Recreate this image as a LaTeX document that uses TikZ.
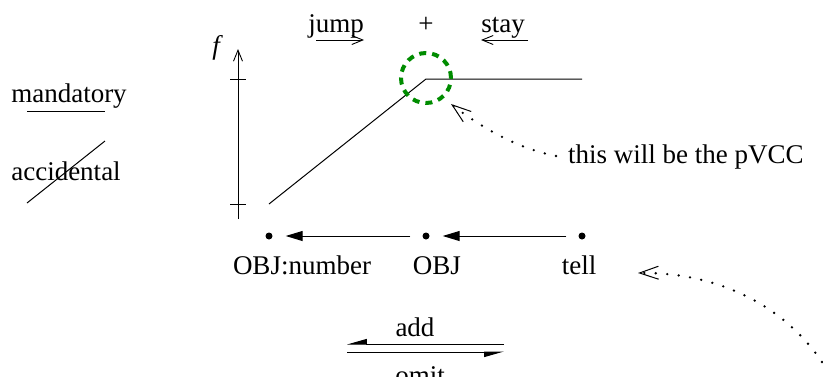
\documentclass[tikz,border=0pt]{standalone}
\usepackage{fontspec}
\setmainfont{Liberation Serif}
\usetikzlibrary{arrows.meta}
\begin{document}
\begin{tikzpicture}[x=1pt,y=-1pt,
  txt/.style={font=\fontsize{27}{32}\selectfont, inner sep=0pt},
  dot/.style={circle, fill=black, inner sep=0pt, minimum size=7pt},
  openarr/.style={-{Straight Barb[length=11pt,width=9pt]}, line width=0.9pt},
  fillarr/.style={-{Triangle[length=17pt,width=10pt]}, line width=1pt},
  note/.style={line width=2.6pt, line cap=round, dash pattern=on 0pt off 11.5pt, -{Straight Barb[length=19pt,width=13pt,line width=1pt,line cap=butt]}},
  thinl/.style={line width=1pt}]
\useasboundingbox (0,0) rectangle (823,376);
% legend
\node[txt, anchor=base] (mand) at (69,102) {mandatory};
\coordinate (mu1) at (27,111); \coordinate (mu2) at (105,111);
\draw[thinl] (mu1) -- (mu2);
\node[txt, anchor=base] (acc) at (66,180) {accidental};
\coordinate (ac1) at (27,203); \coordinate (ac2) at (105,141);
\draw[thinl] (ac1) -- (ac2);
% axis
\node[txt, anchor=base] (f) at (216,54) {\itshape f};
\coordinate (axb) at (238,219); \coordinate (axt) at (238,49);
\draw[openarr] (axb) -- (axt);
\coordinate (tt1) at (230,79); \coordinate (tt2) at (246,79);
\coordinate (tb1) at (230,204); \coordinate (tb2) at (246,204);
\draw[thinl] (tt1) -- (tt2); \draw[thinl] (tb1) -- (tb2);
% graph
\coordinate (g1) at (269,204); \coordinate (g2) at (426,79); \coordinate (g3) at (582,79);
\draw[thinl] (g1) -- (g2) -- (g3);
\node[circle, draw={rgb,255:red,0;green,140;blue,0}, line width=4pt, dash pattern=on 7pt off 6pt, minimum size=50pt, inner sep=0pt] (circ) at (426,78) {};
% top labels
\node[txt, anchor=base] (jump) at (336,32) {jump};
\coordinate (j1) at (316,40); \coordinate (j2) at (364,40);
\draw[openarr] (j1) -- (j2);
\node[txt, anchor=base] (plus) at (426,32) {+};
\node[txt, anchor=base] (stay) at (503,32) {stay};
\coordinate (s1) at (528,40); \coordinate (s2) at (481,40);
\draw[openarr] (s1) -- (s2);
% chain
\node[dot] (d1) at (269,236) {};
\node[dot] (d2) at (426,236) {};
\node[dot] (d3) at (582,236) {};
\draw[fillarr, shorten >=13pt, shorten <=12pt] (d2) -- (d1);
\draw[fillarr, shorten >=13pt, shorten <=12pt] (d3) -- (d2);
\node[txt, anchor=base] (l1) at (302,274) {OBJ:number};
\node[txt, anchor=base] (l2) at (437,274) {OBJ};
\node[txt, anchor=base] (l3) at (579,274) {tell};
% add / omit
\node[txt, anchor=base] (add) at (415,336) {add};
\node[txt, anchor=base] (omit) at (420,384) {omit};
\coordinate (a1) at (504,344); \coordinate (a2) at (347,344);
\draw[thinl, -{Triangle[harpoon,swap,length=18pt,width=10pt]}] (a1) -- (a2);
\coordinate (o1) at (347,352); \coordinate (o2) at (504,352);
\draw[thinl, -{Triangle[harpoon,swap,length=18pt,width=10pt]}] (o1) -- (o2);
% notes
\node[txt, anchor=base west] (pv) at (568,163) {this will be the pVCC};
\coordinate (n1s) at (556,156);
\coordinate (n1tip) at (451,104);
\draw[note] (n1s) .. controls (515,148) and (478,125) .. (n1tip);
\coordinate (n2s) at (822,362); \coordinate (n2tip) at (638,273);
\draw[note] (n2s) .. controls (780,300) and (710,272) .. (n2tip);
\end{tikzpicture}
\end{document}
